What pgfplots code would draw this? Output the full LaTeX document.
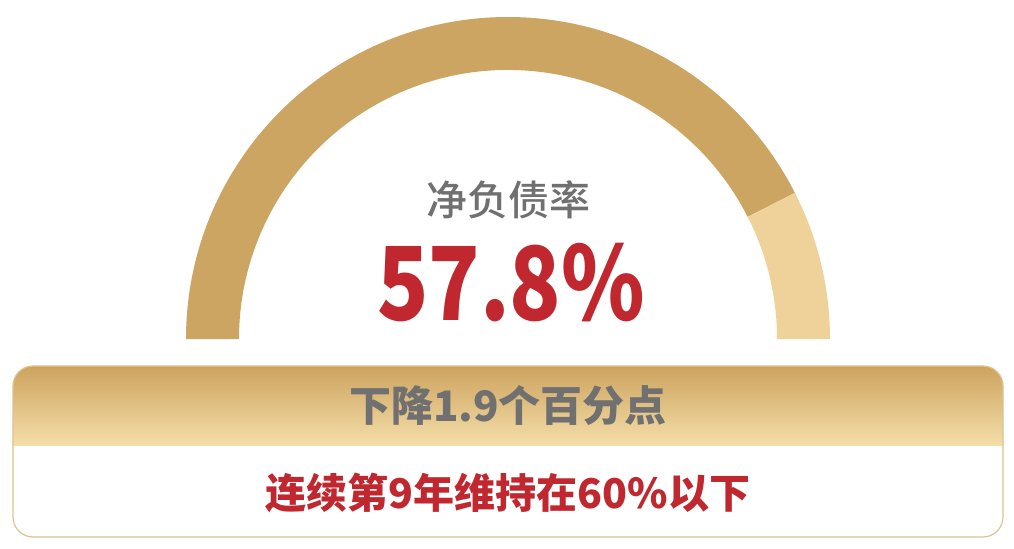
\documentclass[border=0pt]{standalone}
\usepackage{pgfplots}
\pgfplotsset{compat=1.18}
\usepackage{fontspec}
\newfontfamily\cjk{Noto Sans CJK SC}
\newfontfamily\cjkmed{Noto Sans CJK SC}[UprightFont=* Medium]
\newfontfamily\cjknum{Noto Sans CJK SC}[UprightFont=* Black, FakeStretch=0.83]
\definecolor{golddark}{HTML}{CDA562}
\definecolor{goldlight}{HTML}{EFD29A}
\definecolor{gradtop}{HTML}{CDA35E}
\definecolor{gradbot}{HTML}{F4DEA9}
\definecolor{boxline}{HTML}{DDC38E}
\definecolor{txtgray}{HTML}{707070}
\definecolor{txtred}{HTML}{C0272F}

% gauge data
\pgfmathsetmacro{\ratio}{57.8}   % net debt ratio (%)
\pgfmathsetmacro{\gmax}{68}      % full scale of the gauge
\pgfmathsetmacro{\ang}{180-180*\ratio/\gmax}

\begin{document}
\begin{tikzpicture}
\begin{axis}[
  hide axis,
  x=0.5pt, y=0.5pt,
  xmin=0, xmax=1014, ymin=0, ymax=548,
  scale only axis,
  clip=false,
]
\fill[white] (axis cs:0,0) rectangle (axis cs:1014,548);

% gauge: filled part and remainder
\fill[golddark] (axis cs:508,209) ++(180:161pt)
  arc[start angle=180, end angle=\ang, radius=161pt]
  -- ++(\ang:-26.5pt)
  arc[start angle=\ang, end angle=180, radius=134.5pt] -- cycle;
\fill[goldlight] (axis cs:508,209) ++(\ang:161pt)
  arc[start angle=\ang, end angle=0, radius=161pt]
  -- ++(0:-26.5pt)
  arc[start angle=0, end angle=\ang, radius=134.5pt] -- cycle;

\node[txtgray, font=\cjkmed\fontsize{20.5}{24}\selectfont]
  at (axis cs:508,348) {净负债率};
\node[txtred, anchor=base, font=\cjknum\fontsize{51}{60}\selectfont]
  at (axis cs:511,228) {57.8\%};

% bottom box
\begin{scope}
  \clip[rounded corners=10pt] (axis cs:13,11) rectangle (axis cs:1003,182);
  \fill[white] (axis cs:13,11) rectangle (axis cs:1003,182);
  \shade[top color=gradtop, bottom color=gradbot]
    (axis cs:13,103) rectangle (axis cs:1003,182);
\end{scope}
\draw[boxline, line width=0.6pt, rounded corners=10pt]
  (axis cs:13,11) rectangle (axis cs:1003,182);

\node[txtgray, font=\cjk\bfseries\fontsize{21}{25}\selectfont]
  at (axis cs:508,142) {下降1.9个百分点};
\node[txtred, font=\cjk\bfseries\fontsize{20.5}{24}\selectfont]
  at (axis cs:508,55) {连续第9年维持在60\%以下};
\end{axis}
\end{tikzpicture}
\end{document}
